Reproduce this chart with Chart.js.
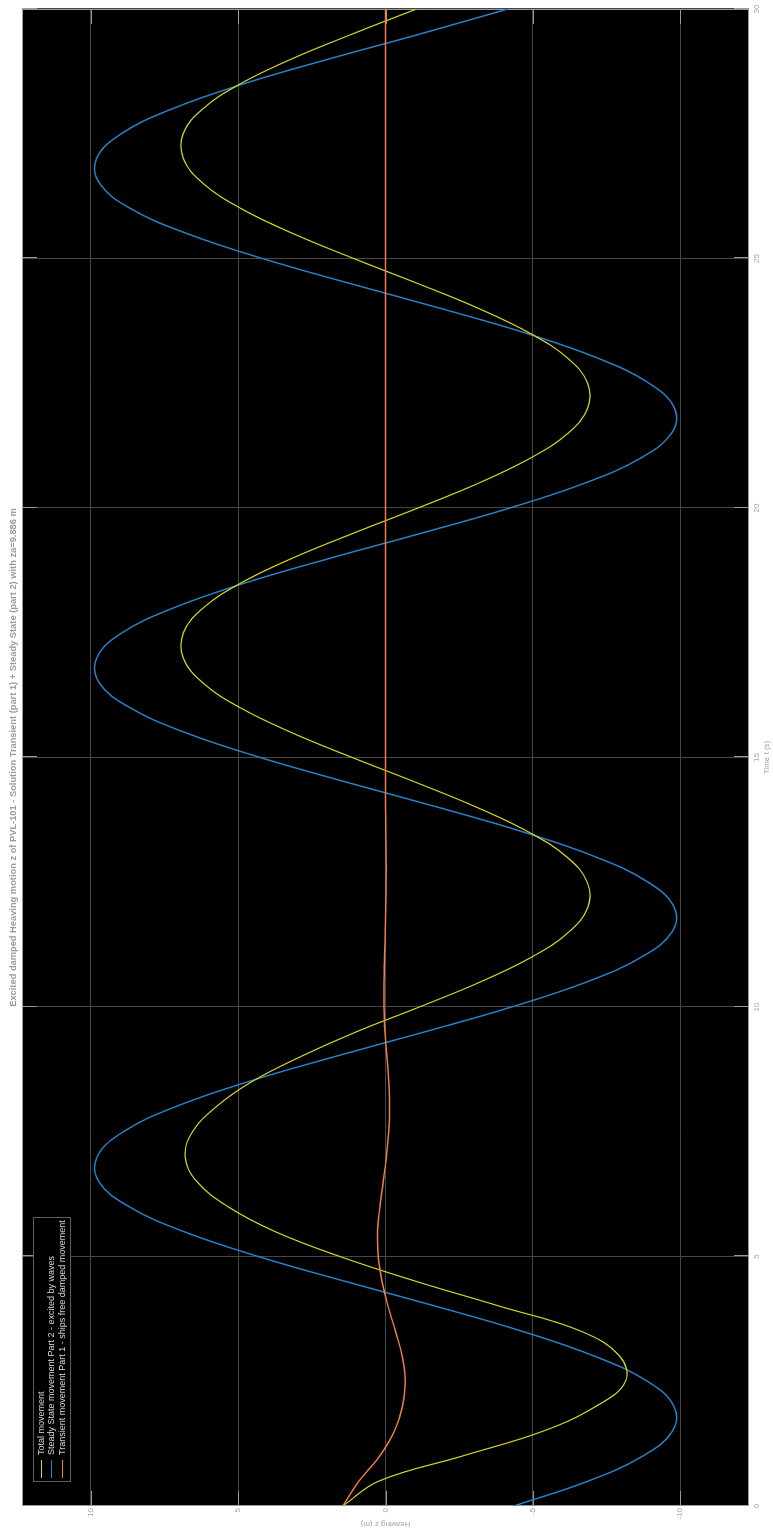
<!DOCTYPE html>
<html>
<head>
<meta charset="utf-8">
<title>Heaving motion PVL-101</title>
<script src="https://cdn.jsdelivr.net/npm/chart.js@4.4.1/dist/chart.umd.min.js"></script>
<style>
  html, body { margin: 0; padding: 0; background: #fff; overflow: hidden; }
  /* the figure is laid out landscape, then turned a quarter turn so time runs upward */
  #fig {
    position: absolute; left: 0; top: 0; width: 1537px; height: 773px;
    transform-origin: 0 0; transform: translate(0, 1537px) rotate(-90deg);
  }
</style>
</head>
<body>
<div id="fig"><canvas id="heave" width="1537" height="773"></canvas></div>
<script>
const TITLE = 'Excited damped Heaving motion z of PVL-101 - Solution Transient (part 1) + Steady State (part 2) with za=9.886 m';
const SERIES_LABELS = [
  'Total movement',
  'Steady State movement Part 2 - excited by waves',
  'Transient movement Part 1 - ships free damped movement',
];

// time samples (s)
const TIME = [
  0, 0.5, 1, 1.5, 2, 2.5, 3, 3.5, 4, 4.5,
  5, 5.5, 6, 6.5, 7, 7.5, 8, 8.5, 9, 9.5,
  10, 10.5, 11, 11.5, 12, 12.5, 13, 13.5, 14, 14.5,
  15, 15.5, 16, 16.5, 17, 17.5, 18, 18.5, 19, 19.5,
  20, 20.5, 21, 21.5, 22, 22.5, 23, 23.5, 24, 24.5,
  25, 25.5, 26, 26.5, 27, 27.5, 28, 28.5, 29, 29.5,
  30,
];

// heave z (m) at each time sample
const TOTAL = [
  1.45, 0.22, -2.6, -5.35, -7.15, -8.15, -7.95, -6.65, -3.9, -1.05,
  1.55, 3.75, 5.35, 6.4, 6.8, 6.55, 5.75, 4.55, 2.9, 1.0,
  -1.15, -3.21, -4.96, -6.22, -6.87, -6.85, -6.17, -4.88, -3.11, -1.04,
  1.13, 3.19, 4.94, 6.21, 6.87, 6.86, 6.18, 4.9, 3.14, 1.07,
  -1.1, -3.17, -4.92, -6.2, -6.86, -6.86, -6.19, -4.91, -3.16, -1.09,
  1.08, 3.14, 4.9, 6.18, 6.86, 6.87, 6.2, 4.93, 3.18, 1.12,
  -1.05,
];
const STEADY = [
  -4.35, -6.88, -8.73, -9.74, -9.79, -8.89, -7.11, -4.65, -1.73, 1.36,
  4.32, 6.85, 8.71, 9.73, 9.79, 8.9, 7.14, 4.68, 1.76, -1.32,
  -4.28, -6.82, -8.69, -9.72, -9.8, -8.92, -7.17, -4.72, -1.8, 1.29,
  4.25, 6.8, 8.68, 9.72, 9.8, 8.94, 7.19, 4.75, 1.84, -1.25,
  -4.22, -6.77, -8.66, -9.71, -9.81, -8.95, -7.22, -4.79, -1.87, 1.21,
  4.18, 6.74, 8.65, 9.7, 9.81, 8.97, 7.24, 4.82, 1.91, -1.18,
  -4.15,
];
const TRANSIENT = [
  1.45, 0.9, 0.2, -0.3, -0.58, -0.67, -0.57, -0.34, -0.09, 0.12,
  0.25, 0.27, 0.19, 0.08, -0.03, -0.11, -0.14, -0.11, -0.05, 0.02,
  0.05, 0.05, 0.03, 0.01, -0.01, -0.02, -0.02, -0.01, 0, 0,
  0, 0, 0, 0, 0, 0, 0, 0, 0, 0,
  0, 0, 0, 0, 0, 0, 0, 0, 0, 0,
  0, 0, 0, 0, 0, 0, 0, 0, 0, 0,
  0,
];

const TIME_TICKS = [0, 5, 10, 15, 20, 25, 30];
const Z_TICKS = [-10, -5, 0, 5, 10];
const Z_LIMIT = 12.34;

const COLORS = ['#d6d626', '#2a80c4', '#f07c48'];
const WIDTHS = [1.2, 1.5, 1.5];
const DRAW_ORDER = [1, 2, 0]; // transient on top
const GRID_COLOR = '#474747';
const AXIS_COLOR = '#9a9a9a';
const TEXT_COLOR = '#a4a4a4';
const TICK_LEN = 15;

Chart.defaults.font.family = '"Liberation Sans", Arial, Helvetica, sans-serif';
Chart.defaults.font.size = 8;

const pts = ys => TIME.map((t, i) => ({ x: t, y: ys[i] }));

// black plot area, inward ticks on all four sides and the box
const axesFrame = {
  id: 'axesFrame',
  beforeDraw(chart) {
    const { ctx, chartArea: a } = chart;
    ctx.save();
    ctx.fillStyle = '#000';
    ctx.fillRect(a.left, a.top, a.right - a.left, a.bottom - a.top);
    ctx.restore();
  },
  beforeDatasetsDraw(chart) {
    const { ctx, chartArea: a, scales: { x, y } } = chart;
    ctx.save();
    ctx.strokeStyle = AXIS_COLOR;
    ctx.lineWidth = 1;
    ctx.beginPath();
    for (const v of TIME_TICKS) {
      const px = Math.round(x.getPixelForValue(v)) + 0.5;
      ctx.moveTo(px, a.bottom); ctx.lineTo(px, a.bottom - TICK_LEN);
      ctx.moveTo(px, a.top); ctx.lineTo(px, a.top + TICK_LEN);
    }
    for (const v of Z_TICKS) {
      const py = Math.round(y.getPixelForValue(v)) + 0.5;
      ctx.moveTo(a.left, py); ctx.lineTo(a.left + TICK_LEN, py);
      ctx.moveTo(a.right, py); ctx.lineTo(a.right - TICK_LEN, py);
    }
    ctx.stroke();
    ctx.strokeRect(a.left + 0.5, a.top + 0.5, a.right - a.left - 1, a.bottom - a.top - 1);
    ctx.restore();
  },
};

// boxed legend in the upper left corner of the axes
const boxLegend = {
  id: 'boxLegend',
  afterDraw(chart) {
    const { ctx, chartArea: a } = chart;
    const left = a.left + 24, top = a.top + 11, w = 264, h = 37, row = 10.7;
    ctx.save();
    ctx.fillStyle = '#000';
    ctx.fillRect(left, top, w, h);
    ctx.strokeStyle = '#5e5e5e';
    ctx.lineWidth = 1;
    ctx.strokeRect(left + 0.5, top + 0.5, w, h);
    ctx.font = '9px "Liberation Sans", Arial, sans-serif';
    ctx.textBaseline = 'middle';
    chart.data.datasets.forEach((ds, i) => {
      const cy = Math.round(top + 7.5 + i * row) + 0.5;
      ctx.strokeStyle = ds.borderColor;
      ctx.beginPath();
      ctx.moveTo(left + 4, cy);
      ctx.lineTo(left + 22, cy);
      ctx.stroke();
      ctx.fillStyle = '#dcdcdc';
      ctx.fillText(ds.label, left + 27, cy);
    });
    ctx.restore();
  },
};

new Chart(document.getElementById('heave'), {
  type: 'line',
  data: {
    datasets: [TOTAL, STEADY, TRANSIENT].map((ys, i) => ({
      label: SERIES_LABELS[i],
      data: pts(ys),
      borderColor: COLORS[i],
      borderWidth: WIDTHS[i],
      order: DRAW_ORDER[i],
      pointRadius: 0,
      tension: 0.4,
      fill: false,
    })),
  },
  options: {
    responsive: false,
    animation: false,
    events: [],
    layout: { padding: { left: 0, right: 9, top: 0, bottom: 0 } },
    plugins: {
      legend: { display: false },
      tooltip: { enabled: false },
      title: {
        display: true,
        fullSize: false, // centre over the axes, not the whole figure
        text: TITLE,
        color: '#9a9a9a',
        font: { size: 9.3, weight: 'bold' },
        padding: { top: 7.9, bottom: 2.94 },
      },
    },
    scales: {
      x: {
        type: 'linear',
        min: 0,
        max: 30,
        afterBuildTicks: s => { s.ticks = TIME_TICKS.map(v => ({ value: v })); },
        afterFit: s => { s.height = 24; },
        grid: { color: GRID_COLOR, drawTicks: false },
        border: { display: false },
        ticks: { color: TEXT_COLOR, padding: 3, maxRotation: 0 },
        title: { display: true, text: 'Time t (s)', color: TEXT_COLOR, padding: { top: 0, bottom: 1.2 } },
      },
      y: {
        type: 'linear',
        min: -Z_LIMIT,
        max: Z_LIMIT,
        afterBuildTicks: s => { s.ticks = Z_TICKS.map(v => ({ value: v })); },
        afterFit: s => { s.width = 31; },
        grid: { color: GRID_COLOR, drawTicks: false },
        border: { display: false },
        ticks: { color: TEXT_COLOR, padding: 2 },
        title: { display: true, text: 'Heaving z (m)', color: TEXT_COLOR, padding: { top: 8.2, bottom: 0 } },
      },
    },
  },
  plugins: [axesFrame, boxLegend],
});
</script>
</body>
</html>
